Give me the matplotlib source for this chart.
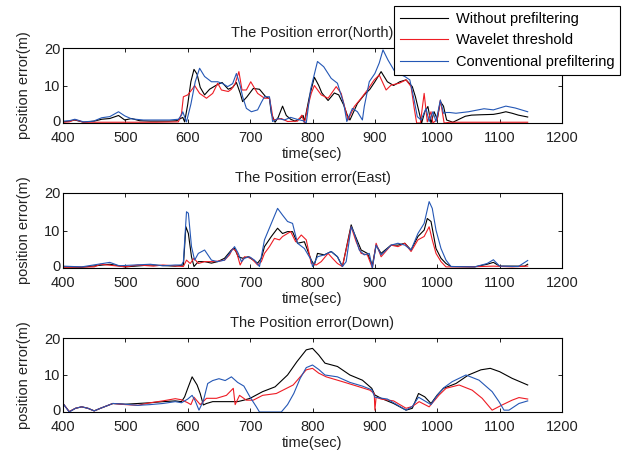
import matplotlib
matplotlib.use("Agg")
import matplotlib.pyplot as plt
from matplotlib.transforms import ScaledTranslation

plt.rcParams['font.family'] = ['Liberation Sans', 'DejaVu Sans']

# ---------------- North ----------------
n_black_t = [400, 410, 419, 433, 450, 462, 475, 489, 499, 510, 523, 540, 555, 570, 582, 592, 595, 600, 605, 610, 615, 620, 627, 635, 645, 655, 665, 672, 678, 684, 688, 695, 705, 715, 725, 731, 734, 740, 745, 752, 758, 765, 772, 780, 785, 787, 795, 803, 810, 815, 825, 835, 842, 850, 856, 860, 866, 872, 883, 892, 900, 910, 920, 930, 940, 950, 960, 965, 970, 975, 980, 985, 990, 995, 1000, 1005, 1010, 1015, 1025, 1035, 1045, 1055, 1070, 1090, 1100, 1110, 1120, 1130, 1145]
n_black_v = [0.3, 0.5, 0.8, 0.2, 0.5, 1.0, 1.2, 2.0, 0.8, 1.2, 0.6, 0.5, 0.5, 0.5, 0.6, 1.5, 0.3, 5.0, 11.0, 14.3, 13.0, 9.5, 7.5, 9.0, 10.0, 10.8, 9.0, 9.5, 10.8, 8.0, 5.7, 7.0, 9.2, 9.0, 7.0, 6.5, 2.5, 0.2, 1.5, 4.5, 2.0, 1.0, 0.5, 1.2, 2.0, 0.3, 7.0, 12.2, 10.0, 8.0, 6.0, 8.0, 7.5, 4.8, 2.0, 0.8, 3.0, 5.2, 7.5, 9.0, 11.0, 13.7, 11.0, 10.0, 11.0, 11.5, 9.7, 7.0, 3.5, 0.0, 3.0, 4.4, 0.0, 3.0, 1.0, 5.7, 4.5, 0.8, 0.2, 1.0, 1.8, 2.1, 2.2, 2.3, 2.6, 3.0, 2.6, 2.1, 1.6]

n_red_t = [400, 410, 419, 433, 450, 500, 550, 585, 590, 593, 600, 608, 611, 619, 630, 640, 648, 654, 665, 670, 676, 682, 687, 694, 701, 712, 723, 731, 734, 737, 750, 760, 776, 783, 787, 792, 798, 803, 814, 825, 838, 846, 852, 857, 867, 878, 888, 899, 907, 918, 926, 939, 950, 958, 963, 967, 973, 976, 979, 984, 990, 993, 1000, 1005, 1011, 1020, 1050, 1100, 1145]
n_red_v = [0.2, 0.3, 0.9, 0.2, 0.2, 0.2, 0.2, 0.3, 2.5, 7.0, 7.5, 9.2, 10.0, 7.9, 6.6, 7.9, 10.6, 8.8, 8.4, 9.0, 10.5, 13.7, 8.8, 8.8, 11.0, 7.9, 6.6, 6.6, 4.0, 0.8, 1.2, 0.4, 0.5, 2.1, 0.0, 4.0, 7.9, 10.0, 7.5, 6.6, 9.7, 7.9, 4.0, 0.8, 4.4, 6.6, 8.8, 11.5, 12.8, 8.8, 10.1, 10.6, 11.5, 9.7, 4.0, 0.0, 0.0, 4.0, 7.9, 0.3, 3.0, 0.0, 1.0, 6.1, 0.0, 0.2, 0.2, 0.2, 0.2]

n_blue_t = [400, 410, 419, 433, 449, 462, 475, 489, 499, 510, 529, 550, 571, 585, 590, 592, 598, 605, 612, 619, 627, 638, 648, 656, 664, 672, 678, 684, 688, 694, 702, 712, 718, 723, 731, 736, 745, 755, 765, 775, 785, 790, 797, 808, 818, 830, 840, 850, 855, 864, 872, 880, 883, 891, 900, 907, 913, 921, 932, 940, 948, 956, 963, 968, 974, 982, 987, 993, 998, 1005, 1010, 1014, 1020, 1030, 1050, 1075, 1090, 1110, 1125, 1145]
n_blue_v = [0.5, 0.6, 1.0, 0.3, 0.5, 1.4, 1.7, 3.0, 1.9, 1.1, 0.8, 0.8, 0.8, 1.0, 2.1, 3.0, 0.3, 5.0, 11.0, 14.6, 12.4, 11.0, 11.0, 10.5, 9.7, 10.5, 13.2, 10.0, 7.0, 3.9, 3.0, 3.5, 5.5, 7.0, 7.0, 0.4, 1.2, 0.8, 1.5, 1.0, 0.6, 0.0, 9.0, 16.4, 15.0, 11.9, 10.6, 5.2, 0.4, 3.9, 3.0, 0.8, 4.4, 11.0, 13.2, 16.0, 19.5, 16.8, 13.7, 13.0, 12.4, 11.5, 6.1, 1.7, 0.8, 3.9, 0.4, 3.0, 0.4, 6.1, 2.6, 2.8, 2.8, 2.6, 3.0, 3.8, 3.5, 4.5, 4.0, 3.0]

# ---------------- East ----------------
e_black_t = [400, 430, 475, 500, 540, 580, 593, 595, 597, 601, 606, 610, 617, 627, 638, 648, 659, 670, 675, 681, 688, 697, 705, 712, 718, 723, 734, 744, 752, 760, 768, 776, 787, 798, 803, 808, 819, 830, 840, 848, 862, 867, 878, 888, 896, 902, 910, 926, 937, 948, 958, 969, 979, 984, 990, 998, 1006, 1014, 1022, 1060, 1080, 1090, 1100, 1140, 1145]
e_black_v = [0.3, 0.2, 1.0, 0.3, 0.8, 0.5, 0.8, 5.7, 11.0, 9.2, 3.0, 0.4, 1.7, 1.7, 1.3, 1.7, 2.6, 4.8, 5.2, 3.0, 2.6, 3.0, 2.1, 1.3, 2.6, 5.7, 8.4, 10.6, 9.2, 9.7, 9.7, 6.6, 7.0, 2.1, 0.8, 3.9, 3.5, 4.4, 3.0, 0.4, 11.5, 9.2, 4.8, 3.9, 0.8, 6.1, 3.9, 6.1, 6.1, 6.6, 4.8, 8.4, 10.1, 13.2, 12.4, 5.2, 2.6, 1.2, 0.4, 0.3, 1.0, 1.5, 0.5, 0.5, 1.0]

e_red_t = [400, 450, 460, 500, 520, 545, 560, 593, 598, 604, 610, 617, 627, 643, 659, 667, 672, 678, 684, 691, 702, 712, 718, 723, 731, 739, 747, 752, 760, 765, 773, 782, 790, 798, 806, 814, 825, 832, 840, 848, 862, 870, 878, 888, 896, 902, 910, 926, 937, 948, 958, 969, 979, 987, 992, 998, 1006, 1014, 1050, 1090, 1120, 1145]
e_red_v = [0.2, 0.3, 1.0, 0.3, 0.8, 0.5, 0.8, 0.4, 2.1, 1.2, 2.6, 1.2, 1.7, 1.7, 2.1, 3.5, 5.2, 4.4, 0.8, 3.0, 2.6, 0.8, 1.7, 3.9, 5.7, 7.9, 7.5, 8.4, 9.2, 9.7, 7.0, 8.8, 7.5, 1.2, 0.8, 1.7, 3.9, 2.6, 1.2, 0.4, 11.0, 7.0, 3.9, 3.5, 0.0, 6.6, 3.0, 6.1, 5.7, 6.6, 4.4, 7.5, 8.4, 11.0, 7.5, 3.9, 1.7, 0.3, 0.3, 0.5, 0.3, 0.5]

e_blue_t = [400, 430, 475, 490, 540, 560, 580, 590, 593, 598, 601, 606, 611, 617, 627, 638, 648, 659, 667, 675, 681, 686, 691, 699, 707, 715, 723, 734, 744, 752, 760, 768, 776, 787, 798, 800, 808, 819, 830, 840, 848, 854, 862, 867, 875, 883, 891, 896, 902, 910, 918, 926, 937, 948, 958, 969, 979, 987, 992, 998, 1006, 1014, 1022, 1060, 1080, 1090, 1100, 1130, 1145]
e_blue_v = [0.5, 0.3, 1.5, 0.6, 1.0, 0.6, 0.8, 0.8, 1.7, 15.0, 14.6, 5.7, 2.1, 3.9, 4.8, 2.1, 1.7, 2.1, 3.9, 5.7, 3.9, 1.7, 2.6, 3.0, 2.1, 0.4, 7.5, 11.9, 15.9, 14.1, 12.4, 11.9, 6.6, 5.2, 2.1, 0.4, 3.0, 3.5, 4.4, 3.0, 0.4, 1.7, 11.0, 9.2, 4.8, 3.5, 3.9, 0.0, 6.1, 3.5, 4.8, 6.1, 6.6, 6.1, 4.8, 9.2, 11.9, 17.7, 15.9, 10.1, 5.2, 2.1, 0.4, 0.3, 1.2, 2.2, 0.5, 0.4, 2.0]

# ---------------- Down ----------------
d_black_t = [400, 410, 420, 430, 440, 450, 460, 480, 500, 520, 540, 560, 580, 590, 595, 600, 607, 615, 620, 625, 630, 640, 660, 680, 690, 700, 720, 740, 760, 775, 790, 800, 810, 820, 840, 860, 880, 895, 900, 910, 930, 950, 960, 970, 980, 990, 1000, 1010, 1030, 1050, 1070, 1085, 1100, 1120, 1145]
d_black_v = [2.3, 0.1, 1.0, 1.4, 1.0, 0.3, 1.0, 2.3, 2.1, 2.3, 2.5, 2.8, 3.0, 2.8, 4.1, 6.4, 9.5, 7.3, 5.0, 1.9, 2.3, 2.8, 2.8, 2.8, 3.2, 3.7, 5.5, 6.8, 10.0, 13.6, 16.8, 17.2, 15.4, 13.2, 12.3, 10.0, 8.6, 6.4, 4.6, 3.7, 2.3, 0.5, 1.0, 5.0, 4.1, 2.3, 4.6, 6.4, 7.7, 10.0, 11.4, 11.8, 10.9, 9.1, 7.3]

d_red_t = [400, 410, 420, 430, 440, 450, 460, 480, 500, 520, 540, 560, 580, 590, 600, 605, 610, 615, 620, 630, 646, 662, 673, 676, 683, 694, 705, 720, 742, 769, 790, 800, 810, 822, 848, 875, 892, 899, 900, 902, 910, 930, 950, 960, 971, 987, 1003, 1014, 1035, 1056, 1072, 1088, 1104, 1120, 1131, 1145]
d_red_v = [2.3, 0.1, 1.0, 1.4, 1.0, 0.3, 1.0, 2.3, 2.0, 1.8, 2.5, 3.0, 3.6, 3.3, 2.5, 2.0, 4.0, 3.0, 2.0, 3.7, 3.7, 4.5, 6.4, 2.0, 4.5, 3.2, 3.2, 4.5, 5.0, 7.3, 11.4, 11.8, 10.5, 9.5, 8.2, 6.8, 5.9, 5.0, 0.5, 4.0, 3.5, 3.0, 1.0, 1.5, 2.8, 1.4, 4.6, 6.4, 7.3, 5.9, 3.7, 0.5, 1.9, 3.2, 3.9, 3.5]

d_blue_t = [400, 410, 420, 430, 440, 450, 460, 480, 500, 520, 540, 560, 580, 590, 600, 607, 612, 618, 625, 632, 640, 650, 660, 670, 680, 690, 700, 710, 715, 750, 760, 770, 780, 790, 800, 810, 820, 840, 860, 880, 895, 900, 920, 940, 950, 960, 970, 980, 990, 1000, 1010, 1024, 1046, 1067, 1088, 1099, 1107, 1115, 1131, 1145]
d_blue_v = [2.3, 0.0, 1.0, 1.4, 1.0, 0.3, 1.0, 2.3, 2.1, 1.8, 2.0, 2.3, 2.8, 2.5, 3.5, 4.5, 3.0, 0.5, 3.0, 7.7, 8.5, 9.0, 8.5, 9.5, 8.0, 7.0, 4.0, 1.4, 0.0, 0.0, 2.0, 5.0, 9.0, 12.0, 12.7, 11.5, 10.0, 9.5, 8.0, 7.0, 6.0, 4.0, 3.5, 1.5, 0.5, 1.5, 4.0, 3.0, 2.0, 4.5, 6.5, 8.2, 10.0, 8.6, 5.5, 2.8, 0.5, 0.5, 2.3, 3.0]

titles = ["The Position error(North)", "The Position error(East)", "The Position error(Down)"]
labels = ["Without prefiltering", "Wavelet threshold", "Conventional prefiltering"]
colors = ["#000000", "#ee1c24", "#2457b5"]
x_ticks = [400, 500, 600, 700, 800, 900, 1000, 1100, 1200]
y_ticks = [0, 10, 20]

panels = [
    [(n_black_t, n_black_v), (n_red_t, n_red_v), (n_blue_t, n_blue_v)],
    [(e_black_t, e_black_v), (e_red_t, e_red_v), (e_blue_t, e_blue_v)],
    [(d_black_t, d_black_v), (d_red_t, d_red_v), (d_blue_t, d_blue_v)],
]

fig = plt.figure(figsize=(6.25, 4.53), dpi=100)
W, H = 625.0, 453.0
left, right = 63 / W, 562 / W
boxes = [(48, 123), (193, 268), (338, 412)]

axes = []
handles = None
for i, (top, bot) in enumerate(boxes):
    ax = fig.add_axes([left, 1 - bot / H, right - left, (bot - top) / H])
    axes.append(ax)
    hs = []
    for (t, v), c in zip(panels[i], colors):
        h, = ax.plot(t, v, color=c, lw=0.8)
        hs.append(h)
    if handles is None:
        handles = hs
    ax.set_xlim(400, 1200)
    ax.set_ylim(0, 20)
    ax.set_xticks(x_ticks)
    ax.set_yticks(y_ticks)
    ax.tick_params(direction='in', length=3, width=0.7, top=True, right=True,
                   labelsize=10.5, colors='#222222')
    ax.tick_params(axis='x', pad=5.5)
    ax.tick_params(axis='y', pad=2)
    for s in ax.spines.values():
        s.set_linewidth(0.8)
    ax.set_title(titles[i], fontsize=10.5, pad=8, color='#222222')
    ax.set_xlabel("time(sec)", fontsize=10.5, labelpad=2, color='#222222')
    ax.set_ylabel("position error(m)", fontsize=10.5, labelpad=9, color='#222222')

leg = fig.legend(handles, labels, loc='upper right', bbox_to_anchor=(620 / W, 1 - 6 / H),
                 fontsize=10.5, frameon=True, fancybox=False, edgecolor='black',
                 framealpha=1, handlelength=3.3, labelspacing=0.52, borderpad=0.4,
                 handletextpad=0.5, borderaxespad=0)
leg.get_frame().set_linewidth(0.8)

# nudge the "0" y tick labels up a little so they do not touch the "400" labels
fig.canvas.draw()
for ax in axes:
    lab = ax.yaxis.get_major_ticks()[0].label1
    lab.set_transform(lab.get_transform() + ScaledTranslation(0, 1.5 / 72, fig.dpi_scale_trans))

fig.savefig("out.png", dpi=100)
